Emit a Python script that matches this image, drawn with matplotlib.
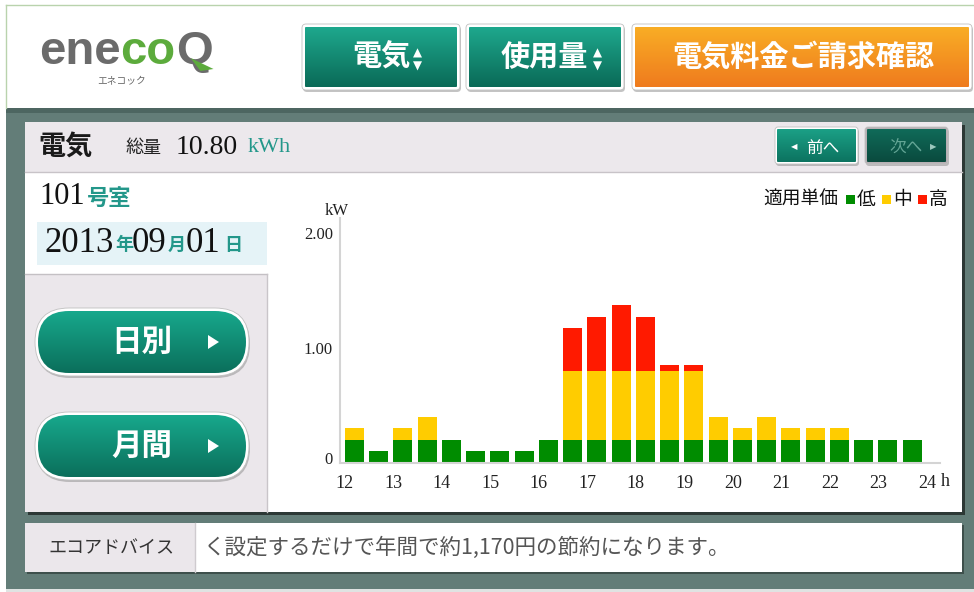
import numpy as np
import matplotlib.pyplot as plt
from matplotlib.patches import Rectangle, FancyBboxPatch, Polygon
from matplotlib.transforms import ScaledTranslation

plt.rcParams['font.family'] = ['Noto Sans CJK JP', 'DejaVu Sans']
SERIF = ['Liberation Serif', 'DejaVu Serif']
TEAL = '#23978a'

# half-hour slots, 12:00 .. 23:30
slots = [12.0, 12.5, 13.0, 13.5, 14.0, 14.5, 15.0, 15.5, 16.0, 16.5, 17.0, 17.5,
         18.0, 18.5, 19.0, 19.5, 20.0, 20.5, 21.0, 21.5, 22.0, 22.5, 23.0, 23.5]
# usage (kW) per price band
use_low = [0.2, 0.1, 0.2, 0.2, 0.2, 0.1, 0.1, 0.1, 0.2, 0.2, 0.2, 0.2,
           0.2, 0.2, 0.2, 0.2, 0.2, 0.2, 0.2, 0.2, 0.2, 0.2, 0.2, 0.2]
use_mid = [0.1, 0.0, 0.1, 0.2, 0.0, 0.0, 0.0, 0.0, 0.0, 0.6, 0.6, 0.6,
           0.6, 0.6, 0.6, 0.2, 0.1, 0.2, 0.1, 0.1, 0.1, 0.0, 0.0, 0.0]
use_high = [0.0, 0.0, 0.0, 0.0, 0.0, 0.0, 0.0, 0.0, 0.0, 0.37, 0.47, 0.57,
            0.47, 0.05, 0.05, 0.0, 0.0, 0.0, 0.0, 0.0, 0.0, 0.0, 0.0, 0.0]
band_names = ['低', '中', '高']
band_colors = ['#008c00', '#ffcc00', '#ff1a00']
hour_ticks = [12, 13, 14, 15, 16, 17, 18, 19, 20, 21, 22, 23, 24]
y_ticks = [0, 1, 2]
y_labels = ['0', '1.00', '2.00']

W, H = 974, 592
fig = plt.figure(figsize=(W / 100, H / 100), dpi=100)
fig.patch.set_facecolor('white')
bg = fig.add_axes([0, 0, 1, 1])
bg.set_xlim(0, W)
bg.set_ylim(H, 0)
bg.axis('off')
renderer = fig.canvas.get_renderer()


def rect(x0, y0, x1, y1, color, z=1, **kw):
    bg.add_patch(Rectangle((x0, y0), x1 - x0, y1 - y0, fc=color, ec='none', zorder=z, **kw))


def run(x, y, parts):
    # draw text pieces one after another
    for s, kw in parts:
        t = bg.text(x, y, s, va='center', ha='left', zorder=5, **kw)
        x += t.get_window_extent(renderer).width
    return x


def mix(c1, c2, n=64):
    a = np.array(plt.matplotlib.colors.to_rgb(c1))
    b = np.array(plt.matplotlib.colors.to_rgb(c2))
    f = np.linspace(0, 1, n)[:, None]
    return (a * (1 - f) + b * f)[:, None, :]


def button(x0, y0, x1, y1, c_top, c_bot, r, b=3, edge='white'):
    w, h = x1 - x0, y1 - y0
    bg.add_patch(FancyBboxPatch((x0 + 1, y0 + 2), w, h,
                                boxstyle=f'round,pad=0,rounding_size={r}',
                                fc='#8a8a8a', ec='none', alpha=0.5, zorder=2))
    bg.add_patch(FancyBboxPatch((x0, y0), w, h,
                                boxstyle=f'round,pad=0,rounding_size={r}',
                                fc=edge, ec='#c0c0c0', lw=0.6, zorder=2.1))
    inner = FancyBboxPatch((x0 + b, y0 + b), w - 2 * b, h - 2 * b,
                           boxstyle=f'round,pad=0,rounding_size={max(r - b, 0.5)}',
                           fc='none', ec='none', zorder=2.2)
    bg.add_patch(inner)
    im = bg.imshow(mix(c_top, c_bot), extent=(x0 + b, x1 - b, y1 - b, y0 + b),
                   aspect='auto', origin='upper', interpolation='bilinear', zorder=2.3)
    im.set_clip_path(inner)


# page frame
rect(6, 5, W, 108, 'white')
bg.plot([6, W], [5, 5], color='#b9d3ad', lw=1)
bg.plot([6, 6], [5, 108], color='#b9d3ad', lw=1)
rect(6, 108, W, H, '#637d78')
rect(6, 108, W, 113, '#4d6661')
rect(6, 589, W, H, '#dfe3e2')

# logo
logo_font = dict(fontsize=34, weight='bold', family=['Liberation Sans'])
xq = run(39, 52, [('ene', dict(color='#6b6b6b', **logo_font)),
                  ('co', dict(color='#5cab3c', **logo_font)),
                  ('Q', dict(color='#6b6b6b', **logo_font))])
bg.add_patch(Polygon([(xq - 22, 58), (xq + 1, 69), (xq - 12, 71)], closed=True,
                     fc='#5cab3c', ec='none', zorder=6))
bg.text(122, 81, 'エネコック', fontsize=7, color='#666666', ha='center', va='center')

# top buttons
button(302, 24, 460, 90, '#1ea88d', '#0a6a57', 4)
button(466, 24, 624, 90, '#1ea88d', '#0a6a57', 4)
button(632, 24, 972, 90, '#f9ad25', '#ef7b1e', 4)
bg.text(381, 57, '電気', fontsize=21, color='white', weight='bold', ha='center', va='center')
bg.text(544, 57, '使用量', fontsize=21, color='white', weight='bold', ha='center', va='center')
bg.text(803, 57, '電気料金ご請求確認', fontsize=21, color='white', weight='bold',
        ha='center', va='center')
for ax_x in (417, 597):
    bg.text(ax_x, 53, '▲', fontsize=8.5, color='white', ha='center', va='center',
            family=['DejaVu Sans'])
    bg.text(ax_x, 66, '▼', fontsize=8.5, color='white', ha='center', va='center',
            family=['DejaVu Sans'])

# main panel
rect(28, 125, 965, 515, '#2c3835')
rect(25, 122, 962, 512, 'white')
rect(25, 122, 962, 172, '#ece8ec')
bg.plot([25, 962], [172, 172], color='#c8c3c8', lw=1)
rect(37, 222, 267, 265, '#e5f3f7')
rect(25, 274, 267, 512, '#ebe7eb')
bg.plot([25, 267], [274, 274], color='#c4c0c4', lw=1)
bg.plot([267, 267], [274, 512], color='#c9c5c9', lw=1)

bg.text(38, 147, '電気', fontsize=19.5, weight='bold', color='#1a1a1a', va='center')
bg.text(125, 148, '総量', fontsize=13, color='#222222', va='center')
bg.text(176, 147, '10.80', fontsize=20, color='#111111', family=SERIF, va='center')
bg.text(248, 148, 'kWh', fontsize=16, color=TEAL, family=SERIF, va='center')

button(775, 127, 858, 164, '#1ba086', '#0c7360', 3, b=2)
button(865, 127, 948, 164, '#106b59', '#0a4a3e', 3, b=2, edge='#b7b0b4')
bg.text(794, 147, '◀', fontsize=6, color='white', ha='center', va='center',
        family=['DejaVu Sans'])
bg.text(823, 148, '前へ', fontsize=12, color='white', ha='center', va='center')
bg.text(906, 148, '次へ', fontsize=12, color='#63a595', ha='center', va='center')
bg.text(933, 147, '▶', fontsize=6, color='#9cc8bd', ha='center', va='center',
        family=['DejaVu Sans'])

bg.text(39, 197, '101', fontsize=22, color='#111111', family=SERIF, va='center')
bg.text(87, 198, '号室', fontsize=16, color=TEAL, weight='bold', va='center')
for xs, s, kind in ((44, '2013', 'n'), (115, '年', 'k'), (132, '09', 'n'),
                    (168, '月', 'k'), (186, '01', 'n'), (224, '日', 'k')):
    if kind == 'n':
        bg.text(xs, 243, s, fontsize=25, color='#111111', family=SERIF, va='center')
    else:
        bg.text(xs, 245, s, fontsize=13, color=TEAL, weight='bold', va='center')

for yc, label in ((342, '日別'), (446, '月間')):
    button(35, yc - 34, 249, yc + 34, '#17a88c', '#0b6f5b', 34, b=3)
    bg.text(142, yc, label, fontsize=22, color='white', weight='bold',
            ha='center', va='center')
    bg.add_patch(Polygon([(208, yc - 7), (208, yc + 7), (219, yc)], closed=True,
                         fc='white', ec='none', zorder=4))

# advice bar
rect(27, 525, 964, 574, '#3e504c')
rect(25, 523, 962, 572, 'white')
rect(25, 523, 195, 572, '#ebe7eb')
bg.plot([195, 195], [523, 572], color='#cfcbcf', lw=1)
bg.text(111, 548, 'エコアドバイス', fontsize=13, color='#333333', ha='center', va='center')
bg.text(203, 548, 'く設定するだけで年間で約1,170円の節約になります。', fontsize=15.5,
        color='#555555', ha='left', va='center')

# legend
lx = run(763, 199, [('適用単価', dict(fontsize=13.5, color='#111111'))])
lx += 8
for name, col in zip(band_names, band_colors):
    rect(lx, 195, lx + 9, 204, col, z=5)
    lx = run(lx + 11, 199, [(name, dict(fontsize=13.5, color='#111111'))]) + 6

bg.set_xlim(0, W)
bg.set_ylim(H, 0)

# chart
ax = fig.add_axes([340 / W, 1 - 463 / H, 600 / W, 245 / H])
ax.set_facecolor('none')
x = np.array(slots)
low = np.array(use_low)
mid = np.array(use_mid)
high = np.array(use_high)
bw = 0.39
ax.bar(x, low, width=bw, align='edge', color=band_colors[0], lw=0)
ax.bar(x, mid, width=bw, bottom=low, align='edge', color=band_colors[1], lw=0)
ax.bar(x, high, width=bw, bottom=low + mid, align='edge', color=band_colors[2], lw=0)
ax.set_xlim(11.9, 24.27)
ax.set_ylim(0, 2.13)
ax.set_xticks(hour_ticks)
ax.set_xticklabels([str(h) for h in hour_ticks], family=SERIF, fontsize=13, color='#222222')
ax.set_yticks(y_ticks)
ax.set_yticklabels(y_labels, family=SERIF, fontsize=12, color='#222222')
ax.tick_params(length=0)
ax.tick_params(axis='x', pad=9)
ax.tick_params(axis='y', pad=5)
zero_lab = ax.get_yticklabels()[0]
zero_lab.set_transform(zero_lab.get_transform() + ScaledTranslation(0, 0.05, fig.dpi_scale_trans))
for s in ('top', 'right'):
    ax.spines[s].set_visible(False)
for s in ('left', 'bottom'):
    ax.spines[s].set_color('#d4d4d4')
    ax.spines[s].set_linewidth(1.5)
ax.annotate('kW', xy=(0, 1), xycoords='axes fraction', xytext=(-3, 7),
            textcoords='offset pixels', ha='center', va='center',
            family=SERIF, fontsize=12, color='#222222')
ax.annotate('h', xy=(24, 0), xycoords=('data', 'axes fraction'), xytext=(18, -19),
            textcoords='offset pixels', ha='center', va='center',
            family=SERIF, fontsize=13, color='#222222')

fig.savefig('out.png', dpi=100)
